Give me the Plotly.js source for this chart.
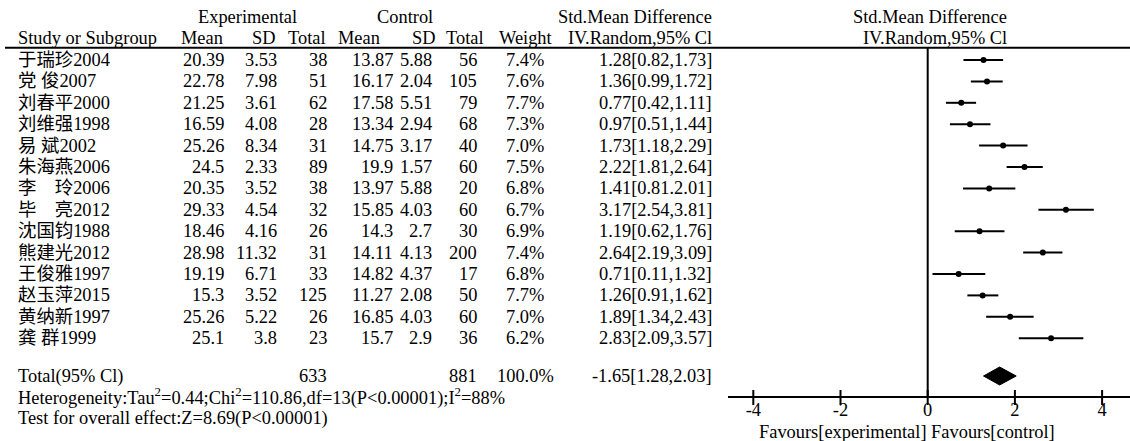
<!DOCTYPE html>
<html><head><meta charset="utf-8">
<script src="https://cdn.plot.ly/plotly-3.0.1.min.js"></script>
<style>html,body{margin:0;padding:0;background:#fff}</style>
</head><body><div id="chart" style="width:1130px;height:441px"></div>
<script>
// ---- data ----
const studies = ["于瑞珍2004","党 俊2007","刘春平2000","刘维强1998","易 斌2002","朱海燕2006","李\u3000玲2006","毕\u3000亮2012","沈国钧1988","熊建光2012","王俊雅1997","赵玉萍2015","黄纳新1997","龚 群1999"];
const expMean = [20.39,22.78,21.25,16.59,25.26,24.5,20.35,29.33,18.46,28.98,19.19,15.3,25.26,25.1];
const expSD   = [3.53,7.98,3.61,4.08,8.34,2.33,3.52,4.54,4.16,11.32,6.71,3.52,5.22,3.8];
const expN    = [38,51,62,28,31,89,38,32,26,31,33,125,26,23];
const ctlMean = [13.87,16.17,17.58,13.34,14.75,19.9,13.97,15.85,14.3,14.11,14.82,11.27,16.85,15.7];
const ctlSD   = [5.88,2.04,5.51,2.94,3.17,1.57,5.88,4.03,2.7,4.13,4.37,2.08,4.03,2.9];
const ctlN    = [56,105,79,68,40,60,20,60,30,200,17,50,60,36];
const weight  = [7.4,7.6,7.7,7.3,7.0,7.5,6.8,6.7,6.9,7.4,6.8,7.7,7.0,6.2];
const smd     = [1.28,1.36,0.77,0.97,1.73,2.22,1.41,3.17,1.19,2.64,0.71,1.26,1.89,2.83];
const ciLow   = [0.82,0.99,0.42,0.51,1.18,1.81,0.81,2.54,0.62,2.19,0.11,0.91,1.34,2.09];
const ciHigh  = [1.73,1.72,1.11,1.44,2.29,2.64,2.01,3.81,1.76,3.09,1.32,1.62,2.43,3.57];
const ciText  = ["1.28[0.82,1.73]","1.36[0.99,1.72]","0.77[0.42,1.11]","0.97[0.51,1.44]","1.73[1.18,2.29]","2.22[1.81,2.64]","1.41[0.81.2.01]","3.17[2.54,3.81]","1.19[0.62,1.76]","2.64[2.19,3.09]","0.71[0.11,1.32]","1.26[0.91,1.62]","1.89[1.34,2.43]","2.83[2.09,3.57]"];
const totalLabel = "Total(95% Cl)";
const totalExpN = 633, totalCtlN = 881, totalWeight = "100.0%";
const totalEst = 1.65, totalLow = 1.28, totalHigh = 2.03;
const totalText = "-1.65[1.28,2.03]";
const heterogeneity = "Heterogeneity:Tau<sup>2</sup>=0.44;Chi<sup>2</sup>=110.86,df=13(P&lt;0.00001);I<sup>2</sup>=88%";
const overall = "Test for overall effect:Z=8.69(P&lt;0.00001)";
const tickVals = [-4,-2,0,2,4];
const tickText = ["-4","-2","0","2","4"];
const favours = "Favours[experimental] Favours[control]";

// ---- layout helpers ----
const W = 1130, H = 441;
const ROW0 = 60, ROWH = 21.4;
const FONT = {family: "'Liberation Serif','Times New Roman','Noto Sans CJK SC',serif", size: 18.4, color: '#000'};
const px = x => x / W;
const py = y => 1 - y / H;
const annotations = [];
function addText(text, x, y, xanchor, yref) {
  annotations.push({text: String(text), x: px(x), xref: 'paper', y: y, yref: yref || 'y',
    xanchor: xanchor, yanchor: 'middle', showarrow: false, font: FONT, borderpad: 0});
}

// headers
addText("Experimental", 247, py(17), 'center', 'paper');
addText("Control", 405, py(17), 'center', 'paper');
addText("Std.Mean Difference", 713, py(17), 'right', 'paper');
addText("Std.Mean Difference", 1008, py(17), 'right', 'paper');
addText("Study or Subgroup", 17, py(38), 'left', 'paper');
addText("Mean", 224, py(38), 'right', 'paper');
addText("SD", 277, py(38), 'right', 'paper');
addText("Total", 327, py(38), 'right', 'paper');
addText("Mean", 381, py(38), 'right', 'paper');
addText("SD", 437, py(38), 'right', 'paper');
addText("Total", 485, py(38), 'right', 'paper');
addText("Weight", 525, py(38), 'center', 'paper');
addText("IV.Random,95% Cl", 713, py(38), 'right', 'paper');
addText("IV.Random,95% Cl", 1008, py(38), 'right', 'paper');

// study rows
studies.forEach((s, i) => {
  addText(s, 17, i, 'left');
  addText(expMean[i], 225, i, 'right');
  addText(expSD[i], 278, i, 'right');
  addText(expN[i], 328, i, 'right');
  addText(ctlMean[i], 394, i, 'right');
  addText(ctlSD[i], 433, i, 'right');
  addText(ctlN[i], 478, i, 'right');
  addText(weight[i].toFixed(1) + "%", 525, i, 'center');
  addText(ciText[i], 713, i, 'right');
});

// total row
const totalRow = (376 - ROW0) / ROWH;
addText(totalLabel, 17, totalRow, 'left');
addText(totalExpN, 328, totalRow, 'right');
addText(totalCtlN, 478, totalRow, 'right');
addText(totalWeight, 525, totalRow, 'center');
addText(totalText, 713, totalRow, 'right');
addText(heterogeneity, 17, py(397), 'left', 'paper');
addText(overall, 17, py(418), 'left', 'paper');
addText(favours, 907, py(432), 'center', 'paper');

// ---- traces ----
const traces = [];
traces.push({
  type: 'scatter', mode: 'markers', x: smd, y: studies.map((_, i) => i),
  xaxis: 'x', yaxis: 'y',
  marker: {color: '#000', size: 6, symbol: 'circle'},
  error_x: {type: 'data', symmetric: false,
    array: ciHigh.map((h, i) => h - smd[i]),
    arrayminus: ciLow.map((l, i) => smd[i] - l),
    color: '#000', thickness: 2, width: 0},
  hoverinfo: 'skip', showlegend: false
});
const dh = 0.42;
traces.push({
  type: 'scatter', mode: 'lines',
  x: [totalLow, totalEst, totalHigh, totalEst, totalLow],
  y: [totalRow, totalRow - dh, totalRow, totalRow + dh, totalRow],
  fill: 'toself', fillcolor: '#000', line: {color: '#000', width: 1},
  hoverinfo: 'skip', showlegend: false
});

// ---- axes ----
const X0PX = 927.7, PXU = 43.6, XL = 728;
const xr = [(XL - X0PX) / PXU, (W - X0PX) / PXU];
const shapes = [
  {type: 'line', xref: 'paper', yref: 'paper', x0: px(5), x1: 1, y0: py(47.7), y1: py(47.7), line: {color: '#000', width: 2}},
  {type: 'line', xref: 'x', yref: 'paper', x0: 0, x1: 0, y0: py(47.7), y1: py(397), line: {color: '#000', width: 2}}
];
tickVals.forEach(v => shapes.push({type: 'line', xref: 'x', yref: 'paper', x0: v, x1: v, y0: py(405), y1: py(390), line: {color: '#000', width: 2}}));

const layout = {
  width: W, height: H, margin: {l: 0, r: 0, t: 0, b: 0},
  paper_bgcolor: '#fff', plot_bgcolor: '#fff',
  font: FONT, showlegend: false,
  xaxis: {domain: [px(XL), 1], range: xr, anchor: 'free', position: py(397),
    showline: true, linecolor: '#000', linewidth: 2, showgrid: false, zeroline: false,
    ticks: '', tickvals: tickVals, ticktext: tickText, tickfont: FONT, ticklabelstandoff: -4, fixedrange: true},
  yaxis: {domain: [0, 1], range: [(H - ROW0) / ROWH, -ROW0 / ROWH], visible: false,
    showgrid: false, zeroline: false, anchor: 'free', position: 0, fixedrange: true},
  annotations: annotations, shapes: shapes
};
Plotly.newPlot('chart', traces, layout, {displayModeBar: false, staticPlot: true});
</script></body></html>
